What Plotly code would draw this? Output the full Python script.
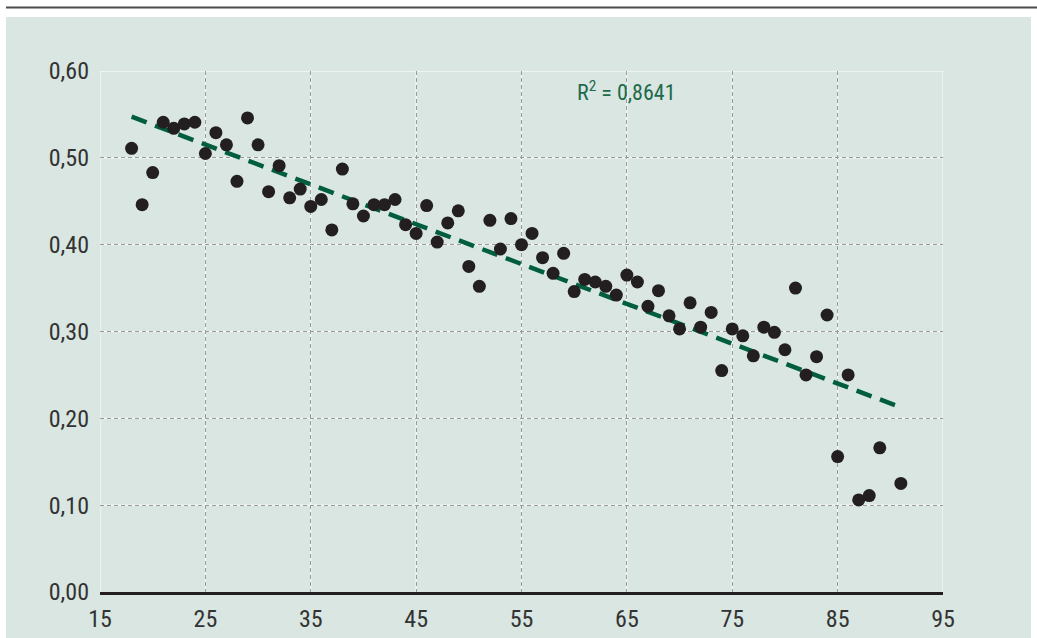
import numpy as np
import plotly.graph_objects as go

# ---- data ----
ages = [18, 19, 20, 21, 22, 23, 24, 25, 26, 27, 28, 29, 30, 31, 32, 33, 34, 35, 36, 37,
        38, 39, 40, 41, 42, 43, 44, 45, 46, 47, 48, 49, 50, 51, 52, 53, 54, 55, 56, 57,
        58, 59, 60, 61, 62, 63, 64, 65, 66, 67, 68, 69, 70, 71, 72, 73, 74, 75, 76, 77,
        78, 79, 80, 81, 82, 83, 84, 85, 86, 87, 88, 89, 91]
values = [0.511, 0.446, 0.483, 0.541, 0.534, 0.539, 0.541, 0.505, 0.529, 0.515,
          0.473, 0.546, 0.515, 0.461, 0.491, 0.454, 0.464, 0.444, 0.452, 0.417,
          0.487, 0.447, 0.433, 0.446, 0.446, 0.452, 0.423, 0.413, 0.445, 0.403,
          0.425, 0.439, 0.375, 0.352, 0.428, 0.395, 0.430, 0.400, 0.413, 0.385,
          0.367, 0.390, 0.346, 0.360, 0.357, 0.352, 0.342, 0.365, 0.357, 0.329,
          0.347, 0.318, 0.303, 0.333, 0.305, 0.322, 0.255, 0.303, 0.295, 0.272,
          0.305, 0.299, 0.279, 0.350, 0.250, 0.271, 0.319, 0.156, 0.250, 0.106,
          0.111, 0.166, 0.125]
x_ticks = [15, 25, 35, 45, 55, 65, 75, 85, 95]
y_ticks = [0.0, 0.1, 0.2, 0.3, 0.4, 0.5, 0.6]
r2_label = "R<sup>2</sup> = 0,8641"

# linear trend from the data
slope, intercept = np.polyfit(ages, values, 1)
trend_x = [min(ages), max(ages)]
trend_y = [slope * v + intercept for v in trend_x]

W, H = 1037, 638
ML, MR, MT, MB = 100, 94, 71, 46
PW, PH = W - ML - MR, H - MT - MB


def px_x(p):
    return (p - ML) / PW


def px_y(p):
    return (H - MB - p) / PH


BG = "#d9e6e1"
FONT = "Roboto Condensed, Liberation Sans Narrow, DejaVu Sans Condensed, Arial Narrow, sans-serif"

fig = go.Figure()
fig.add_trace(go.Scatter(
    x=trend_x, y=trend_y, mode="lines",
    line=dict(color="#005e3e", width=4.5, dash="16px,9px"),
    hoverinfo="skip", showlegend=False))
fig.add_trace(go.Scatter(
    x=ages, y=values, mode="markers",
    marker=dict(color="#231f20", size=13, line=dict(width=0)),
    showlegend=False))

shapes = []
# panel background and top rule
shapes.append(dict(type="rect", xref="paper", yref="paper",
                   x0=px_x(6), x1=px_x(1031), y0=px_y(H + 5), y1=px_y(17),
                   fillcolor=BG, line=dict(width=0), layer="below"))
shapes.append(dict(type="line", xref="paper", yref="paper",
                   x0=px_x(6), x1=px_x(W + 5), y0=px_y(7.5), y1=px_y(7.5),
                   line=dict(color="#4d4d4d", width=2), layer="below"))
# white lines under the dashed grid
for xv in x_ticks:
    shapes.append(dict(type="line", xref="x", yref="y", x0=xv, x1=xv,
                       y0=y_ticks[0], y1=y_ticks[-1],
                       line=dict(color="white", width=1), layer="below"))
for yv in y_ticks[1:]:
    shapes.append(dict(type="line", xref="x", yref="y", x0=x_ticks[0], x1=x_ticks[-1],
                       y0=yv, y1=yv,
                       line=dict(color="white", width=1), layer="below"))

fig.update_layout(
    width=W, height=H,
    margin=dict(l=ML, r=MR, t=MT, b=MB, pad=0, autoexpand=False),
    paper_bgcolor="white", plot_bgcolor=BG,
    separators=", ",
    font=dict(family=FONT, color="#333333", size=24),
    shapes=shapes,
    annotations=[dict(x=65, y=0.577, xref="x", yref="y", text=r2_label,
                      showarrow=False, xanchor="center", yanchor="middle",
                      font=dict(family=FONT, size=22, color="#1d6a4c"))],
)
fig.update_xaxes(range=[x_ticks[0], x_ticks[-1]], tickvals=x_ticks, automargin=False,
                 showgrid=True, gridcolor="#9a9a9a", griddash="4px,3px", gridwidth=1,
                 zeroline=False, showline=True, linecolor="#231f20", linewidth=3,
                 ticks="", ticklabelstandoff=3, tickfont=dict(size=24))
fig.update_yaxes(range=[y_ticks[0], y_ticks[-1]], tickvals=y_ticks, tickformat=".2f",
                 automargin=False,
                 showgrid=True, gridcolor="#9a9a9a", griddash="4px,3px", gridwidth=1,
                 zeroline=False, showline=False, ticks="", ticklabelstandoff=10,
                 tickfont=dict(size=24))

fig.write_html(
    "out.html",
    config={"displayModeBar": False},
    post_script="document.body.style.margin='0';document.body.style.overflow='hidden';",
)
